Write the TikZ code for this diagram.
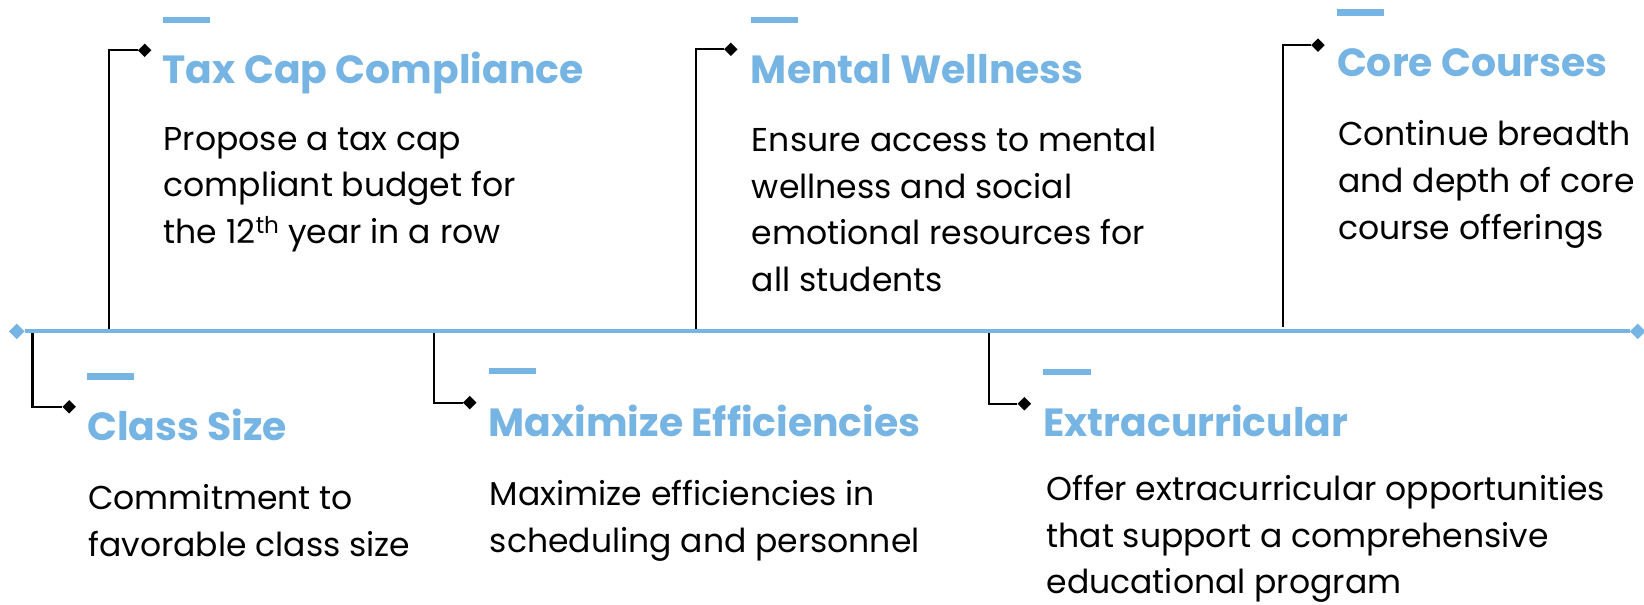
\documentclass[tikz,border=0pt]{standalone}
\usepackage{fontspec}
\setmainfont{Poppins}
\usetikzlibrary{shapes.geometric}
\usetikzlibrary{positioning}
\definecolor{tlblue}{RGB}{118,180,228}
\tikzstyle{mark_end}=[diamond, fill=tlblue, inner sep=0pt, minimum size=15pt]
\tikzstyle{mark_item}=[diamond, fill=black, inner sep=0pt, minimum size=13pt]
\tikzstyle{item_bar}=[rectangle, fill=tlblue, inner sep=0pt, minimum width=45pt, minimum height=6pt, anchor=west]
\tikzstyle{item_title}=[anchor=base west, inner sep=0pt, text=tlblue, font=\bfseries\fontsize{37.5}{44}\selectfont]
\tikzstyle{item_text}=[anchor=north west, inner sep=0pt, align=left, font=\fontsize{31.5}{44.5}\selectfont]
\tikzstyle{link}=[draw=black, line width=2pt]

\begin{document}
\begin{tikzpicture}[x=1pt,y=-1pt]
\useasboundingbox (0,0) rectangle (1568,577);
\node[mark_end] (line_start) at (16,316){};
\node[mark_end] (line_end) at (1562,316){};
\coordinate (tax_root) at (104,316);
\coordinate (mental_root) at (664,316);
\coordinate (core_root) at (1224,312);
\coordinate (class_root) at (31,316);
\coordinate (max_root) at (414,316);
\coordinate (extra_root) at (943,316);
\node[mark_item] (tax_mark) at (138,48){};
\node[mark_item] (mental_mark) at (697,47){};
\node[mark_item] (core_mark) at (1257,43){};
\node[mark_item] (class_mark) at (66,388){};
\node[mark_item] (max_mark) at (448,384){};
\node[mark_item] (extra_mark) at (977,385){};
\draw[link](tax_root) |- (tax_mark);
\draw[link](mental_root) |- (mental_mark);
\draw[link](core_root) |- (core_mark);
\draw[link](class_root) |- (class_mark);
\draw[link](max_root) |- (max_mark);
\draw[link](extra_root) |- (extra_mark);
\draw[draw=tlblue, line width=4pt](line_start) -- (line_end);
\node[item_bar] (tax_bar) at (155,19){};
\node[item_bar] (mental_bar) at (716,19){};
\node[item_bar] (core_bar) at (1275,12){};
\node[item_bar] (class_bar) at (83,359){};
\node[item_bar] (max_bar) at (466,354){};
\node[item_bar] (extra_bar) at (995,355){};
\node[item_title] (tax_title) at (155,80){Tax Cap Compliance};
\node[item_title] (mental_title) at (716,80){Mental Wellness};
\node[item_title] (core_title) at (1275,73){Core Courses};
\node[item_title] (class_title) at (83,420){Class Size};
\node[item_title] (max_title) at (466,416){Maximize Efficiencies};
\node[item_title] (extra_title) at (995,416){Extracurricular};
\node[item_text] (tax_text) at (156,121){Propose a tax cap\\compliant budget for\\the 12\textsuperscript{th} year in a row};
\node[item_text] (mental_text) at (717,121){Ensure access to mental\\wellness and social\\emotional resources for\\all students};
\node[item_text] (core_text) at (1276,115){Continue breadth\\and depth of core\\course offerings};
\node[item_text] (class_text) at (84,462){Commitment to\\favorable class size};
\node[item_text] (max_text) at (467,458){Maximize efficiencies in\\scheduling and personnel};
\node[item_text] (extra_text) at (998,453){Offer extracurricular opportunities\\that support a comprehensive\\educational program};
\end{tikzpicture}
\end{document}
